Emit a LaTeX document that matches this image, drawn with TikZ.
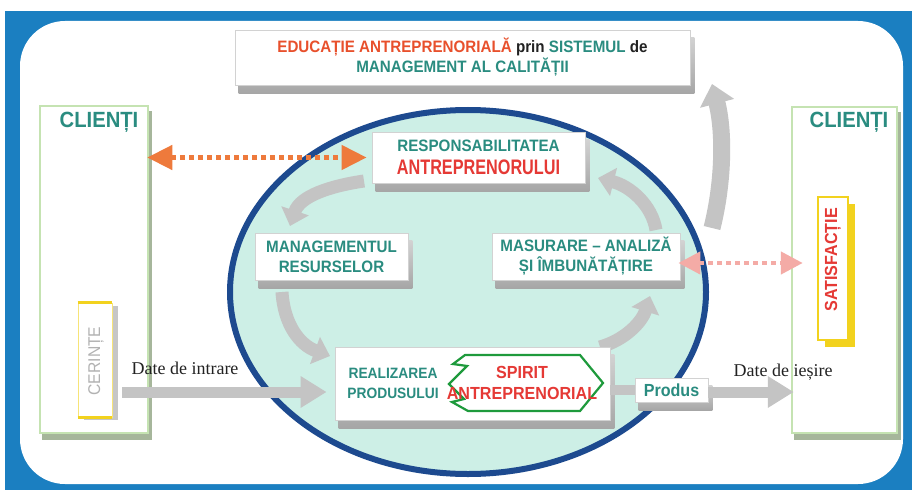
\documentclass[tikz,border=0pt]{standalone}
\usepackage{graphicx}
\usepackage{fontspec}
\setmainfont{Liberation Sans}[FakeStretch=0.92]
\newfontfamily\plainsans{Liberation Sans}[FakeStretch=0.92]
\newfontfamily\serifc{Liberation Serif}
\usetikzlibrary{arrows.meta,calc}
\pgfdeclarelayer{back}
\pgfdeclarelayer{mid}
\pgfsetlayers{back,mid,main}
\definecolor{framebl}{HTML}{1B7FC1}
\definecolor{ellfill}{HTML}{CDEFE6}
\definecolor{ellline}{HTML}{1D4A8F}
\definecolor{tealc}{HTML}{2A8C80}
\definecolor{redc}{HTML}{E53935}
\definecolor{titred}{HTML}{E8502C}
\definecolor{colgreen}{HTML}{C5E3B2}
\definecolor{orangec}{HTML}{EE7A3C}
\definecolor{pinkc}{HTML}{F4ABA6}
\definecolor{arrgray}{HTML}{C4C4C4}
\definecolor{yellc}{HTML}{F2D21E}
\definecolor{greenc}{HTML}{1E9A3C}
\definecolor{darktxt}{HTML}{222222}
\begin{document}
\begin{tikzpicture}[x=1pt,y=-1pt,
  box3d/.style={draw=gray!35, line width=0.8pt, fill=white, inner sep=0pt, align=center,
    font=\bfseries\fontsize{16.5}{20}\selectfont, text=tealc},
  column/.style={draw=colgreen, line width=2.5pt, fill=white, inner sep=0pt},
  lbl/.style={inner sep=0pt, align=center, font=\bfseries\fontsize{16.5}{20}\selectfont, text=tealc},
  garr/.style={draw=arrgray, line width=13pt, -{Triangle[width=28pt,length=16pt]}},
  flowarr/.style={draw=arrgray, line width=11pt, -{Triangle[width=30pt,length=26pt]}},
  dotarr/.style={line width=4.5pt, dash pattern=on 5pt off 4pt},
  slab/.style={top color=gray!35, bottom color=gray!70}
]
\useasboundingbox (0,0) rectangle (912,492);
\begin{pgfonlayer}{back}
\fill[white] (0,0) rectangle (912,492);
\fill[framebl] (5,11) rectangle (912,490);
\fill[white, rounded corners=45pt] (20,21) rectangle (903,484);
% big ellipse
\draw[ellline, line width=6pt, fill=ellfill] (468,292) ellipse [x radius=238, y radius=182];
\end{pgfonlayer}

% client columns
\node[column, minimum width=108pt, minimum height=327pt] (leftcol) at (94,269.5) {};
\node[column, minimum width=105pt, minimum height=326pt] (rightcol) at (844.5,270) {};
\node[lbl, font=\bfseries\fontsize{22}{24}\selectfont] (clL) at (99,122) {CLIENȚI};
\node[lbl, font=\bfseries\fontsize{22}{24}\selectfont] (clR) at (849,122) {CLIENȚI};

% cerinte
\fill[gray!45] (84,306) rectangle (118,420);
\node[draw=yellc!60, line width=0.8pt, fill=white, minimum width=34pt, minimum height=114pt, inner sep=0pt] (cer) at (95,360) {};
\draw[yellc, line width=3pt] (cer.north west) -- (cer.north east);
\draw[yellc, line width=3pt] (cer.south west) -- (cer.south east);
\node[rotate=90, inner sep=0pt, text=gray!60, font=\plainsans\fontsize{17}{20}\selectfont] (certxt) at (96,361) {CERINȚE};

% satisfactie
\fill[yellc] (825,204) rectangle (855,347);
\node[draw=yellc, line width=2.5pt, fill=white, minimum width=30pt, minimum height=143pt, inner sep=0pt] (satis) at (833,268.5) {};
\node[rotate=90, inner sep=0pt, text=redc, font=\bfseries\fontsize{17.5}{20}\selectfont] (satistxt) at (833,260) {SATISFACȚIE};

% curved gray arrows
\coordinate (a1s) at (364,181); \coordinate (a1e) at (290,226);
\draw[garr] (a1s) .. controls (330,186) and (300,196) .. (a1e);
\coordinate (a2s) at (282,292); \coordinate (a2e) at (330,356);
\draw[garr] (a2s) .. controls (284,325) and (300,345) .. (a2e);
\coordinate (a3s) at (600,347); \coordinate (a3e) at (650,296);
\draw[garr] (a3s) .. controls (625,340) and (642,322) .. (a3e);
\coordinate (a4s) at (656,230); \coordinate (a4e) at (598,178);
\draw[garr] (a4s) .. controls (652,205) and (630,186) .. (a4e);
\coordinate (a5s) at (712,228); \coordinate (a5e) at (712,84);
\draw[garr, line width=17pt, -{Triangle[width=34pt,length=20pt]}] (a5s) .. controls (724,180) and (724,130) .. (a5e);

% boxes
\node[box3d, minimum width=455pt, minimum height=55pt] (title) at (462.5,57.5)
  {\textcolor{titred}{EDUCAȚIE ANTREPRENORIALĂ} \textcolor{darktxt}{prin} SISTEMUL \textcolor{darktxt}{de}\\MANAGEMENT AL CALITĂȚII};
\node[box3d, minimum width=213pt, minimum height=51pt] (resp) at (478.5,157.5)
  {RESPONSABILITATEA\\[3pt]\textcolor{redc}{\fontsize{21}{24}\selectfont\scalebox{0.84}[1]{ANTREPRENORULUI}}};
\node[box3d, minimum width=153pt, minimum height=47pt] (mgmt) at (331.5,256.5)
  {MANAGEMENTUL\\RESURSELOR};
\node[box3d, minimum width=188pt, minimum height=47pt] (masur) at (586,256.5)
  {MASURARE – ANALIZĂ\\ȘI ÎMBUNĂTĂȚIRE};
\node[box3d, minimum width=275pt, minimum height=73pt] (real) at (472.5,383.5) {};
\node[lbl, font=\bfseries\fontsize{15}{20}\selectfont] (realtxt) at (393,383) {REALIZAREA\\PRODUSULUI};
\draw[greenc, line width=2.2pt, fill=white, line join=miter]
  (465,355) -- (580,355) -- (603,383) -- (580,411) -- (468,411) -- (452,402) -- (464,399)
  -- (449,384) -- (467,366) -- (453,364) -- cycle;
\node[lbl, text=redc, font=\bfseries\fontsize{17.5}{21}\selectfont] (spirit) at (522,383) {SPIRIT\\ANTREPRENORIAL};
\node[box3d, minimum width=73pt, minimum height=24pt, font=\bfseries\fontsize{17.5}{20}\selectfont] (produs) at (671.5,390) {Produs};

% 3D slabs under boxes and columns
\begin{pgfonlayer}{mid}
\foreach \n in {title,resp,mgmt,masur,real,produs}{
  \shade[slab] ($(\n.north west)+(4,8)$) rectangle ($(\n.south east)+(4,8)$);
}
\fill[colgreen!55!gray] ($(leftcol.north west)+(3,6)$) rectangle ($(leftcol.south east)+(3,6)$);
\fill[colgreen!55!gray] ($(rightcol.north west)+(3,6)$) rectangle ($(rightcol.south east)+(3,6)$);
\end{pgfonlayer}

% flow arrows
\draw[draw=arrgray, line width=10pt] (real.east |- produs.west) -- (produs.west);
\coordinate (inS) at (cer.east |- 0,392);
\coordinate (inE) at (real.west |- 0,392);
\draw[flowarr, shorten >=8pt] ($(inS)+(10,0)$) -- (inE);
\coordinate (outS) at (produs.east |- 0,392);
\coordinate (outE) at (rightcol.west |- 0,392);
\draw[flowarr, shorten >=-3pt] (outS) -- (outE);
\node[inner sep=0pt, font=\serifc\fontsize{18}{20}\selectfont, text=darktxt] (dinL) at (185,368) {Date de intrare};
\node[inner sep=0pt, font=\serifc\fontsize{18}{20}\selectfont, text=darktxt] (doutL) at (783,372) {Date de ieșire};

% dotted double arrows
\coordinate (oL) at (leftcol.east |- resp.west);
\draw[orangec, dotarr, {Triangle[width=24pt,length=25pt]}-{Triangle[width=24pt,length=25pt]}, shorten <=-2pt, shorten >=5pt] (oL) -- (resp.west);
\coordinate (pL) at (masur.east |- 0,263);
\coordinate (pR) at (rightcol.west |- 0,263);
\draw[pinkc, dotarr, {Triangle[width=22pt,length=22pt]}-{Triangle[width=22pt,length=22pt]}, shorten <=-2pt, shorten >=-12pt] (pL) -- (pR);
\end{tikzpicture}
\end{document}
